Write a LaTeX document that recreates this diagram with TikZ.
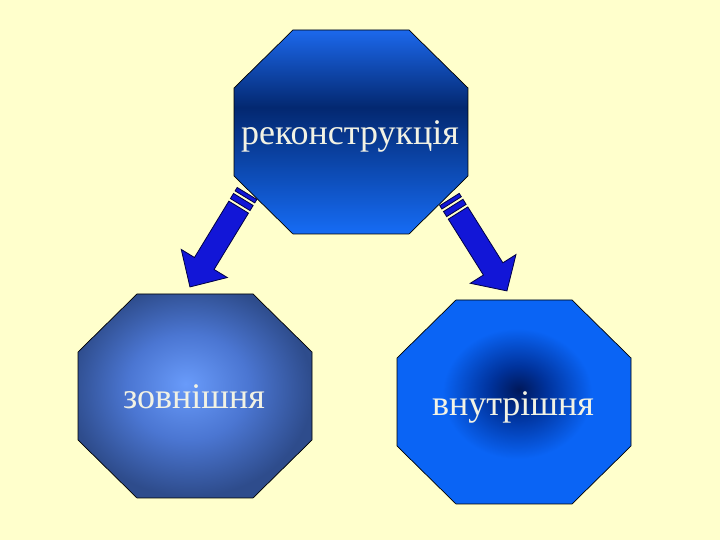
\documentclass[tikz,border=0pt]{standalone}
\usepackage{fontspec}
\setmainfont{Liberation Serif}
\definecolor{bg}{RGB}{255,255,204}
\definecolor{txt}{RGB}{242,242,228}
\definecolor{tt}{RGB}{28,104,236}
\definecolor{tm}{RGB}{3,40,112}
\definecolor{tb}{RGB}{22,108,245}
\definecolor{blin}{RGB}{105,155,250}
\definecolor{blmid}{RGB}{75,118,210}
\definecolor{blout}{RGB}{46,76,140}
\definecolor{brin}{RGB}{0,24,90}
\definecolor{brmid}{RGB}{0,50,155}
\definecolor{brout}{RGB}{10,100,245}
\definecolor{arrfill}{RGB}{18,22,215}
\definecolor{arrline}{RGB}{0,0,70}
\pgfdeclareverticalshading{topoct}{100bp}{color(0bp)=(tb); color(25bp)=(tb); color(56bp)=(tm); color(75bp)=(tt); color(100bp)=(tt)}
\pgfdeclareradialshading{bloct}{\pgfpoint{-2bp}{3bp}}{color(0bp)=(blin); color(13bp)=(blmid); color(26bp)=(blout); color(50bp)=(blout)}
\pgfdeclareradialshading{broct}{\pgfpoint{1bp}{3bp}}{color(0bp)=(brin); color(6bp)=(brmid); color(16bp)=(brout); color(50bp)=(brout)}
\tikzset{
  octline/.style={draw=black, line width=0.7pt},
  label/.style={text=txt, font=\fontsize{36}{36}\selectfont, inner sep=0pt, anchor=base},
  arrpart/.style={fill=arrfill, draw=arrline, line width=0.8pt, line join=miter},
}
\newcommand\octagonat[2]{%
  \shade[octline, shading=#2, shift={(#1)}]
    (-58,102) -- (58,102) -- (117,44) -- (117,-44) -- (58,-102) -- (-58,-102) -- (-117,-44) -- (-117,44) -- cycle;}
\newcommand\stripedarrow[3]{%
  \begin{scope}[shift={(#1)}, rotate=#2]
    \draw[arrpart] (0,-11.5) rectangle (4,11.5);
    \draw[arrpart] (7,-11.5) rectangle (13,11.5);
    \draw[arrpart] (16,-11.5) -- (82,-11.5) -- (82,-27) -- (#3,0) -- (82,27) -- (82,11.5) -- (16,11.5) -- cycle;
  \end{scope}}
\begin{document}
\begin{tikzpicture}[x=1pt,y=1pt]
  \fill[bg] (0,0) rectangle (720,540);
  \useasboundingbox (0,0) rectangle (720,540);
  \coordinate (ctop) at (351,408);
  \coordinate (cbl) at (195,144);
  \coordinate (cbr) at (514,138);
  \octagonat{ctop}{topoct}
  \octagonat{cbl}{bloct}
  \octagonat{cbr}{broct}
  \node[label] (rek) at (350,395) {реконструкція};
  \node[label] (zov) at (194,131) {зовнішня};
  \node[label] (vnu) at (513,124) {внутрішня};
  \coordinate (ltail) at (247,346.5);
  \coordinate (rtail) at (449.5,340.5);
  \stripedarrow{ltail}{238.6}{109.5}
  \stripedarrow{rtail}{-57.85}{108}
\end{tikzpicture}
\end{document}
